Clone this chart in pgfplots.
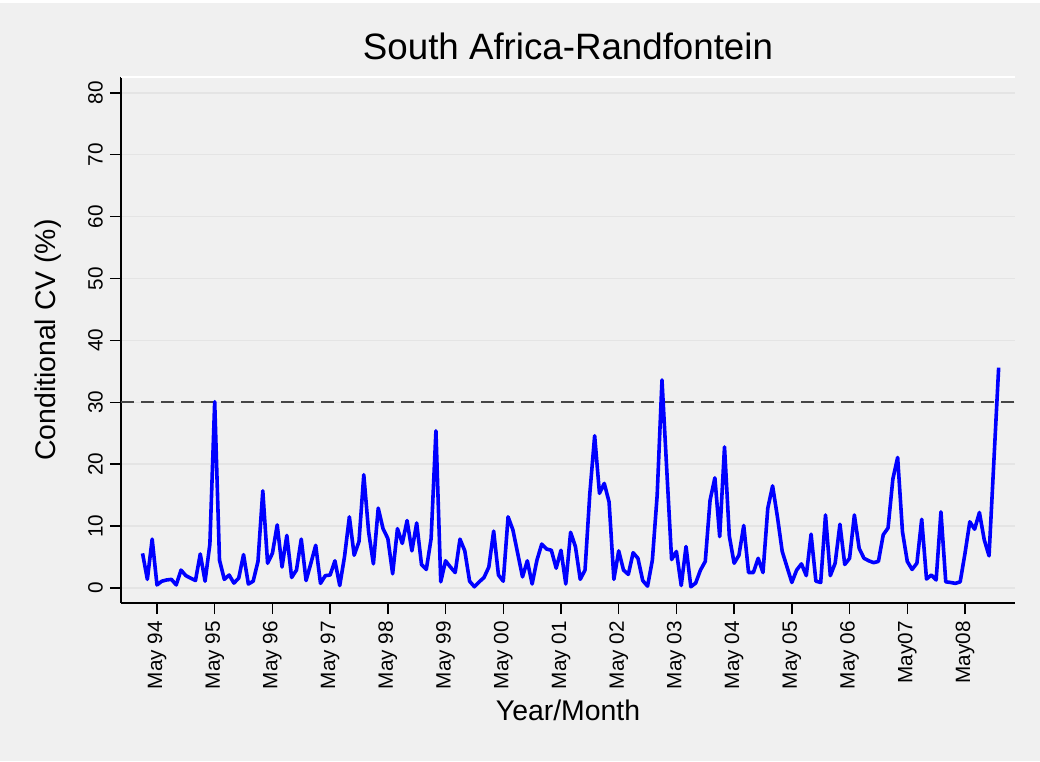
\documentclass[border=0pt]{standalone}
\usepackage{fontspec}
\setmainfont{Liberation Sans}
\usepackage{pgfplots}
\usepackage{pgfplotstable}
\pgfplotsset{compat=1.18}
\definecolor{bg}{RGB}{240,240,240}
\definecolor{gridc}{RGB}{228,228,228}
\definecolor{refc}{RGB}{70,70,70}
\pgfplotstableread{
m v
1 5.6
2 1.4
3 7.9
4 0.5
5 1.1
6 1.3
7 1.4
8 0.5
9 2.9
10 2.0
11 1.6
12 1.2
13 5.5
14 1.1
15 7.1
16 30.1
17 4.5
18 1.4
19 2.1
20 0.8
21 1.6
22 5.4
23 0.65
24 1.1
25 4.3
26 15.7
27 4.0
28 5.6
29 10.2
30 3.4
31 8.5
32 1.7
33 2.9
34 7.9
35 1.2
36 4.0
37 6.9
38 0.75
39 2.0
40 2.1
41 4.4
42 0.4
43 5.1
44 11.5
45 5.3
46 7.5
47 18.3
48 9.1
49 3.9
50 12.9
51 9.6
52 8.0
53 2.3
54 9.6
55 7.2
56 10.9
57 6.0
58 10.5
59 3.8
60 3.0
61 8.0
62 25.4
63 1.0
64 4.4
65 3.4
66 2.5
67 7.9
68 6.0
69 1.1
70 0.2
71 1.0
72 1.7
73 3.4
74 9.2
75 2.1
76 1.1
77 11.5
78 9.4
79 5.6
80 1.8
81 4.4
82 0.65
83 4.5
84 7.1
85 6.3
86 6.1
87 3.2
88 6.1
89 0.65
90 9.0
91 6.7
92 1.4
93 2.9
94 15.3
95 24.6
96 15.3
97 16.9
98 13.9
99 1.4
100 6.0
101 2.9
102 2.2
103 5.7
104 4.8
105 1.2
106 0.3
107 4.5
108 15.0
109 33.6
110 19.0
111 4.6
112 5.9
113 0.4
114 6.7
115 0.2
116 0.8
117 2.9
118 4.3
119 14.2
120 17.8
121 8.3
122 22.8
123 8.4
124 4.0
125 5.3
126 10.1
127 2.5
128 2.5
129 4.8
130 2.5
131 12.9
132 16.5
133 11.5
134 5.9
135 3.4
136 0.9
137 2.9
138 3.9
139 2.0
140 8.7
141 1.1
142 0.9
143 11.8
144 2.0
145 4.0
146 10.3
147 3.8
148 4.8
149 11.8
150 6.4
151 4.8
152 4.4
153 4.1
154 4.3
155 8.6
156 9.7
157 17.6
158 21.1
159 9.1
160 4.3
161 3.0
162 4.0
163 11.1
164 1.45
165 2.1
166 1.3
167 12.3
168 1.0
169 0.9
170 0.75
171 1.0
172 5.6
173 10.7
174 9.5
175 12.2
176 7.8
177 5.2
178 20.4
179 35.6
}\cvdata
\begin{document}
\begin{tikzpicture}[x=1pt,y=1pt]
\fill[white] (0,0) rectangle (1040,761);
\fill[bg] (0,0) rectangle (1040,758);
\begin{axis}[
  at={(121pt,158pt)}, anchor=south west,
  scale only axis, width=894pt, height=526pt,
  xmin=-3.48, xmax=182.4, ymin=-2.42, ymax=82.55,
  axis lines=left,
  axis line style={-, line width=1.5pt, black},
  tick align=outside,
  major tick length=11pt,
  tick style={line width=1.5pt, black},
  xtick={4,16,28,40,52,64,76,88,100,112,124,136,148,160,172},
  xticklabels={May 94,May 95,May 96,May 97,May 98,May 99,May 00,May 01,May 02,May 03,May 04,May 05,May 06,May07,May08},
  ytick={0,10,20,30,40,50,60,70,80},
  /pgf/number format/assume math mode=true,
  ticklabel style={font=\fontsize{20.7}{22}\selectfont},
  xticklabel style={rotate=90, anchor=east, inner sep=0pt},
  yticklabel style={rotate=90, anchor=south, inner sep=0pt},
  xticklabel shift=7pt,
  yticklabel shift=7pt,
  ymajorgrids,
  grid style={gridc, line width=1.5pt},
  title={South Africa-Randfontein},
  title style={font=\fontsize{36.7}{40}\selectfont, at={(axis description cs:0.5,1.0228)}, anchor=base},
  xlabel={Year/Month},
  xlabel style={font=\fontsize{28.4}{30}\selectfont, at={(axis description cs:0.5,-0.2243)}, anchor=base},
  ylabel={Conditional CV (\%)},
  ylabel style={font=\fontsize{28.4}{30}\selectfont, at={(axis description cs:-0.0738,0.5)}, anchor=base},
  clip=false,
]
\draw[white, line width=1.5pt] (rel axis cs:0,1) -- (rel axis cs:1,1);
\addplot[refc, line width=2pt, dash pattern=on 12.7pt off 7.3pt, forget plot] coordinates {(-3.48,30) (182.4,30)};
\addplot[blue, line width=3.6pt, line join=round, mark=none] table[x=m, y=v] {\cvdata};
\end{axis}
\end{tikzpicture}
\end{document}
